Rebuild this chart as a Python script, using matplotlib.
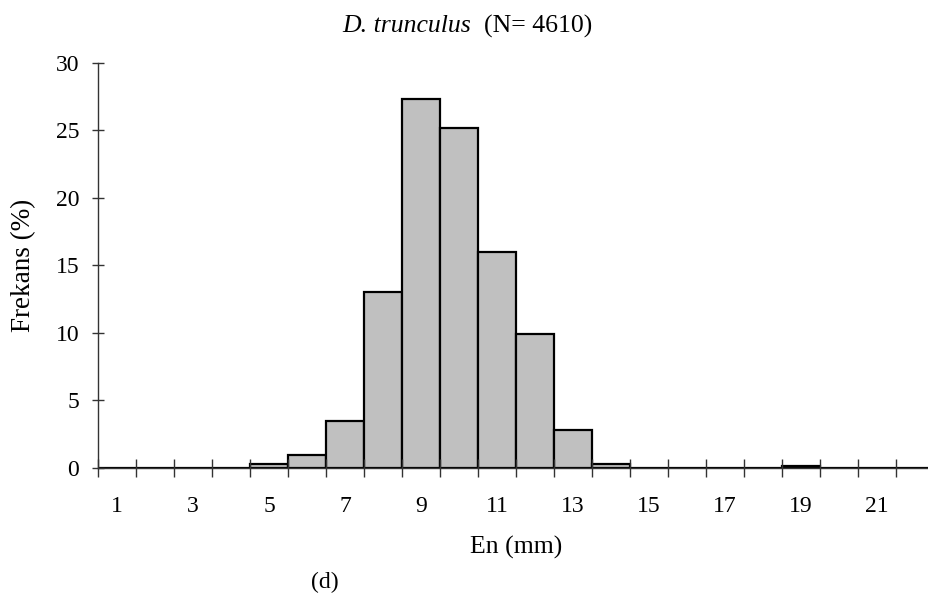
import numpy as np
import matplotlib
matplotlib.use("Agg")
import matplotlib.pyplot as plt

plt.rcParams['font.family'] = ['Liberation Serif', 'DejaVu Serif']

# size classes (mm) and frequency (%)
sizes = np.arange(1, 23)
freq = [0, 0, 0, 0, 0.32, 0.95, 3.45, 13.05, 27.3, 25.2, 16.0, 9.9,
        2.78, 0.3, 0, 0, 0, 0, 0.12, 0, 0, 0]
label_sizes = [1, 3, 5, 7, 9, 11, 13, 15, 17, 19, 21]

fig = plt.figure(figsize=(9.29, 5.94), dpi=100)
ax = fig.add_axes([0.1055, 0.2121, 0.9, 0.682])

ax.bar(sizes, freq, width=1.0, color='#c0c0c0', edgecolor='black', linewidth=1.6)

ax.set_xlim(0.5, 22.5)
ax.set_ylim(0, 30)

for s in ['top', 'right']:
    ax.spines[s].set_visible(False)
for s in ['left', 'bottom']:
    ax.spines[s].set_color('#333333')
    ax.spines[s].set_linewidth(1.0)

# tick marks between categories, labels under odd categories
ax.set_xticks(np.arange(0.5, 22.5, 1.0))
ax.set_xticklabels([])
ax.set_xticks(label_sizes, minor=True)
ax.set_xticklabels([str(v) for v in label_sizes], minor=True)
ax.tick_params(axis='x', which='major', direction='inout', length=13, width=1.0, color='#333333')
ax.tick_params(axis='x', which='minor', length=0, pad=20, labelsize=17)

ax.set_yticks([0, 5, 10, 15, 20, 25, 30])
ax.tick_params(axis='y', direction='inout', length=9, width=1.0, color='#333333', pad=9, labelsize=17)

ax.set_ylabel('Frekans (%)', fontsize=19.5, labelpad=14)
ax.set_xlabel('En (mm)', fontsize=18.5, labelpad=14)

fig.text(0.507, 0.956, 'D. trunculus', fontsize=18.5, fontstyle='italic', ha='right', va='center')
fig.text(0.507, 0.956, '  (N= 4610)', fontsize=18.5, ha='left', va='center')
fig.text(0.35, 0.02, '(d)', fontsize=17, ha='center', va='center')

fig.savefig('out.png', dpi=100)
